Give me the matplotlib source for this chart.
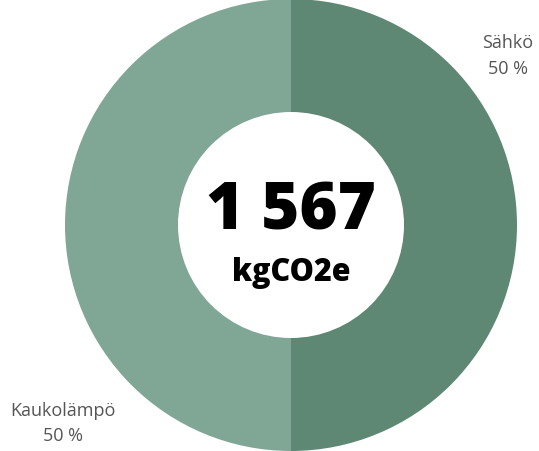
import matplotlib
matplotlib.use("Agg")
import matplotlib.pyplot as plt

labels = ["Sähkö", "Kaukolämpö"]
values = [50, 50]
colors = ["#5f8874", "#80a696"]
total_text = "1 567"
unit_text = "kgCO2e"

W, H = 539, 452
fig = plt.figure(figsize=(W / 100, H / 100), dpi=100)
cx, cy, r = 291, 226, 226
ax = fig.add_axes([(cx - r) / W, (cy - r) / H, 2 * r / W, 2 * r / H])
ax.pie(values, colors=colors, startangle=90, counterclock=False,
       radius=1.0, wedgeprops=dict(width=0.5, edgecolor="none"))
ax.set_xlim(-1, 1)
ax.set_ylim(-1, 1)
ax.set_aspect("equal")
ax.axis("off")

ax.text(0, 0.06, total_text, ha="center", va="center", fontsize=47,
        fontweight="heavy", family="Open Sans", color="black")
ax.text(0, -0.21, unit_text, ha="center", va="center", fontsize=22,
        fontweight="heavy", family="Open Sans", color="black")

fig.text(508 / W, 1 - 56 / H, "Sähkö\n50 %", ha="center", va="center",
         fontsize=13, family="Open Sans", color="#555555", linespacing=1.6)
fig.text(63 / W, 1 - 424 / H, "Kaukolämpö\n50 %", ha="center", va="center",
         fontsize=13, family="Open Sans", color="#555555", linespacing=1.5)

fig.savefig("out.png", dpi=100, facecolor="white")
